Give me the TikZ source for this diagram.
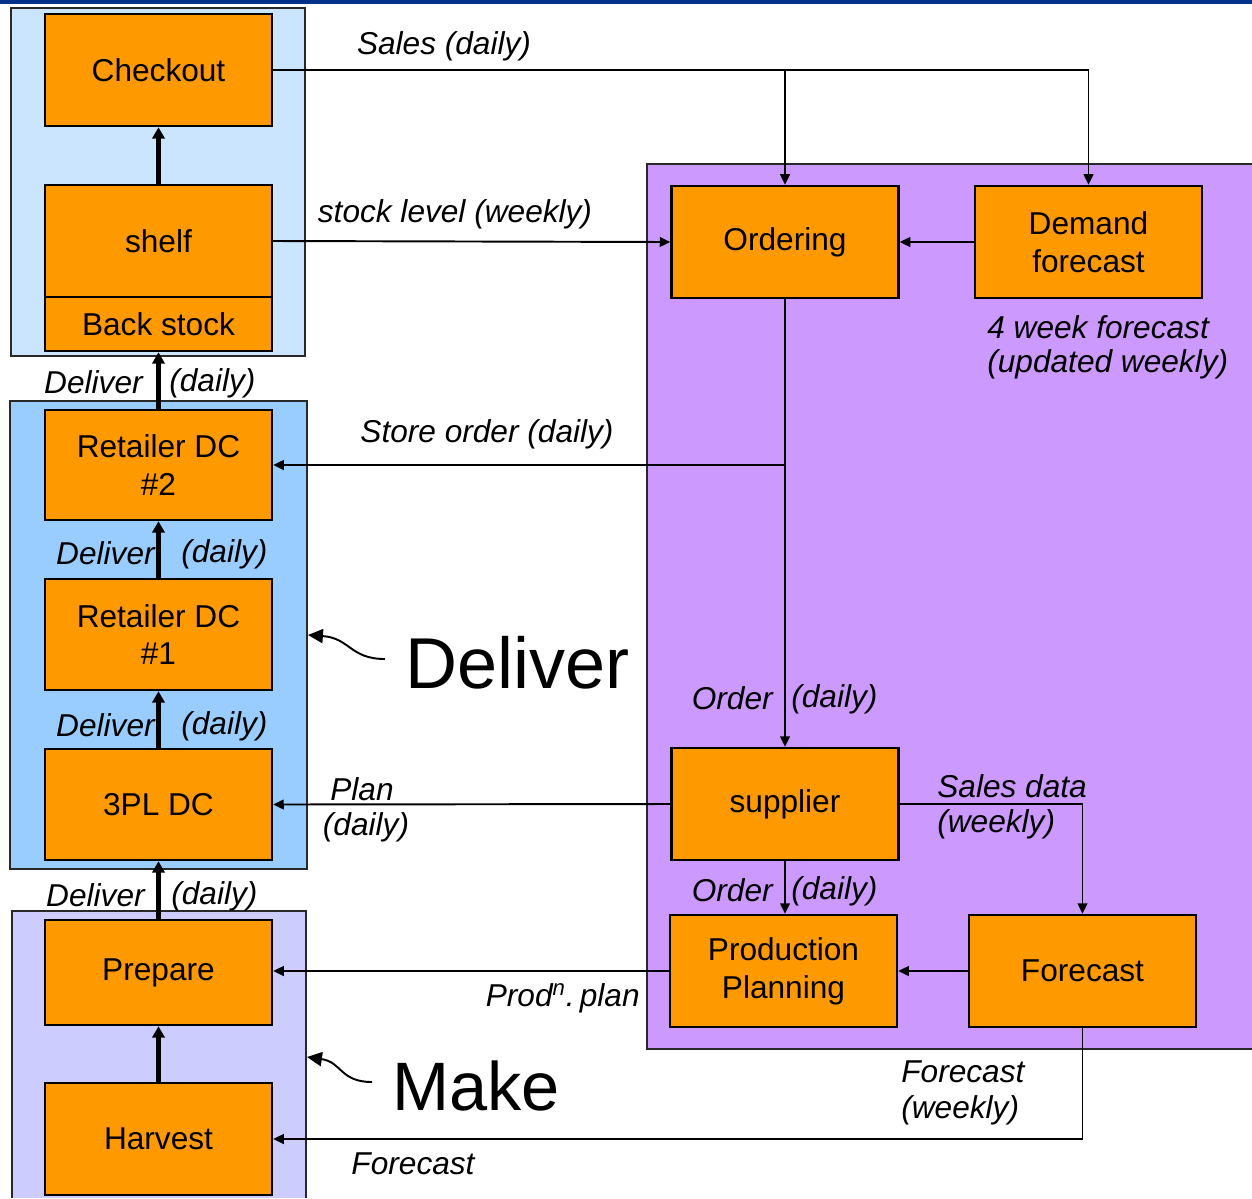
\documentclass[tikz,border=0pt]{standalone}
\usepackage{fontspec}
\setmainfont{Liberation Sans}
\usetikzlibrary{arrows.meta}

\definecolor{navybar}{RGB}{0,48,135}
\definecolor{storefill}{RGB}{204,229,255}
\definecolor{deliverfill}{RGB}{153,204,255}
\definecolor{makefill}{RGB}{204,204,255}
\definecolor{planfill}{RGB}{204,153,255}
\definecolor{procfill}{RGB}{255,153,0}
\definecolor{groupline}{RGB}{40,40,40}

\begin{document}
\begin{tikzpicture}[x=0.02cm,y=-0.02cm,
  txt/.style={font=\fontsize{18}{21.5}\selectfont},
  proc/.style={txt, draw=black, line width=1.4pt, fill=procfill,
    minimum width=4.54cm, minimum height=2.24cm, align=center, inner sep=0pt},
  lbl/.style={font=\fontsize{18}{21.5}\selectfont\itshape, inner sep=0pt},
  big/.style={inner sep=0pt},
  flow/.style={line width=1.1pt, -{Triangle[length=6pt,width=5.5pt]}},
  move/.style={line width=2.9pt, -{Triangle[length=6.5pt,width=7pt]}},
  curly/.style={line width=1.1pt, -{Triangle[length=8.5pt,width=8pt]}},
  group/.style={draw=groupline, line width=0.8pt},
  ]
\useasboundingbox (0,0) rectangle (1252,1198);

% title bar
\fill[navybar] (0,0) rectangle (1252,4);

% grouping panels
\filldraw[group, fill=storefill] (11,8) rectangle (305,356);
\filldraw[group, fill=deliverfill] (10,401) rectangle (307,869);
\fill[makefill] (12,911) rectangle (306,1198);
\draw[group] (12,1198) -- (12,911) -- (306,911) -- (306,1198);
\fill[planfill] (647,164) rectangle (1252,1049);
\draw[group, line width=1.2pt] (1252,164) -- (647,164) -- (647,1049) -- (1252,1049);

% process boxes
\node[proc] (checkout) at (158.5,70) {Checkout};
\node[proc] (shelf) at (158.5,241) {shelf};
\node[proc, minimum height=1.08cm] (backstock) at (158.5,324) {Back stock};
\node[proc, minimum height=2.2cm] (dctwo) at (158.5,465) {Retailer DC\\\#2};
\node[proc, minimum height=2.22cm] (dcone) at (158.5,634.5) {Retailer DC\\\#1};
\node[proc, minimum height=2.22cm] (tpl) at (158.5,804.5) {3PL DC};
\node[proc, minimum height=2.1cm] (prepare) at (158.5,972.5) {Prepare};
\node[proc] (harvest) at (158.5,1139) {Harvest};
\node[proc] (ordering) at (785,242) {Ordering};
\node[proc] (demand) at (1088.5,242) {Demand\\forecast};
\node[proc] (supplier) at (785,804) {supplier};
\node[proc] (pp) at (783.5,971) {Production\\Planning};
\node[proc] (forecast) at (1082.5,971) {Forecast};

% physical flow
\draw[move] (shelf.north) -- (checkout.south);
\draw[move] (dctwo.north) -- (backstock.south);
\draw[move] (dcone.north) -- (dctwo.south);
\draw[move] (tpl.north) -- (dcone.south);
\draw[move] (prepare.north) -- (tpl.south);
\draw[move] (harvest.north) -- (prepare.south);

% information flow
\draw[flow] (checkout.east) -| (demand.north);
\draw[flow] (checkout.east -| ordering.north) -- (ordering.north);
\draw[flow] (shelf.east) -- (ordering.west);
\draw[flow] (demand.west) -- (ordering.east);
\draw[flow] (ordering.south) -- (supplier.north);
\draw[flow] (ordering.south |- dctwo.east) -- (dctwo.east);
\draw[flow] (supplier.west) -- (tpl.east);
\draw[flow] (supplier.east) -| (forecast.north);
\draw[flow] (supplier.south) -- (supplier.south |- pp.north);
\draw[flow] (forecast.west) -- (pp.east);
\draw[flow] (pp.west) -- (pp.west -| prepare.east);
\draw[flow] (forecast.south) |- (harvest.east);

% labels
\node[lbl] (lsales) at (444,46) {Sales (daily)};
\node[lbl] (lstock) at (455,214) {stock level (weekly)};
\node[lbl, anchor=west] (lfc1) at (987,327) {4 week forecast};
\node[lbl, anchor=west] (lfc2) at (987,364) {(updated weekly)};
\node[lbl, anchor=east] (ld1) at (143,382) {Deliver};
\node[lbl, anchor=west] (ld1b) at (169,383) {(daily)};
\node[lbl] (lstore) at (487,434) {Store order (daily)};
\node[lbl, anchor=east] (ld2) at (155,553) {Deliver};
\node[lbl, anchor=west] (ld2b) at (181,554) {(daily)};
\node[lbl, anchor=east] (ld3) at (155,725) {Deliver};
\node[lbl, anchor=west] (ld3b) at (181,726) {(daily)};
\node[lbl, anchor=east] (lo1) at (773,698) {Order};
\node[lbl, anchor=west] (lo1b) at (791,699) {(daily)};
\node[lbl, anchor=west] (lsd1) at (937,786) {Sales data};
\node[lbl, anchor=west] (lsd2) at (937,824) {(weekly)};
\node[lbl] (lplan1) at (362,789) {Plan};
\node[lbl] (lplan2) at (366,827) {(daily)};
\node[lbl, anchor=east] (ld4) at (145,895) {Deliver};
\node[lbl, anchor=west] (ld4b) at (171,896) {(daily)};
\node[lbl, anchor=east] (lo2) at (773,890) {Order};
\node[lbl, anchor=west] (lo2b) at (791,891) {(daily)};
\node[lbl, anchor=east] (lprod) at (640,998) {Prod\textsuperscript{n}.\,plan};
\node[lbl, anchor=west] (lfw1) at (901,1072) {Forecast};
\node[lbl, anchor=west] (lfw2) at (901,1110) {(weekly)};
\node[lbl] (lfh) at (413,1164) {Forecast};

% stage names with pointers
\node[big, anchor=west, font=\fontsize{41}{49}\selectfont] (sdeliver) at (405,663) {Deliver};
\node[big, anchor=west, font=\fontsize{39}{47}\selectfont] (smake) at (392,1086) {Make};
\coordinate (cdeliver) at (385,659);
\coordinate (cmake) at (372,1082);
\draw[curly] (cdeliver) .. controls (350,659) and (350,638) .. (308,635);
\draw[curly] (cmake) .. controls (340,1082) and (342,1062) .. (307,1057);
\end{tikzpicture}
\end{document}
